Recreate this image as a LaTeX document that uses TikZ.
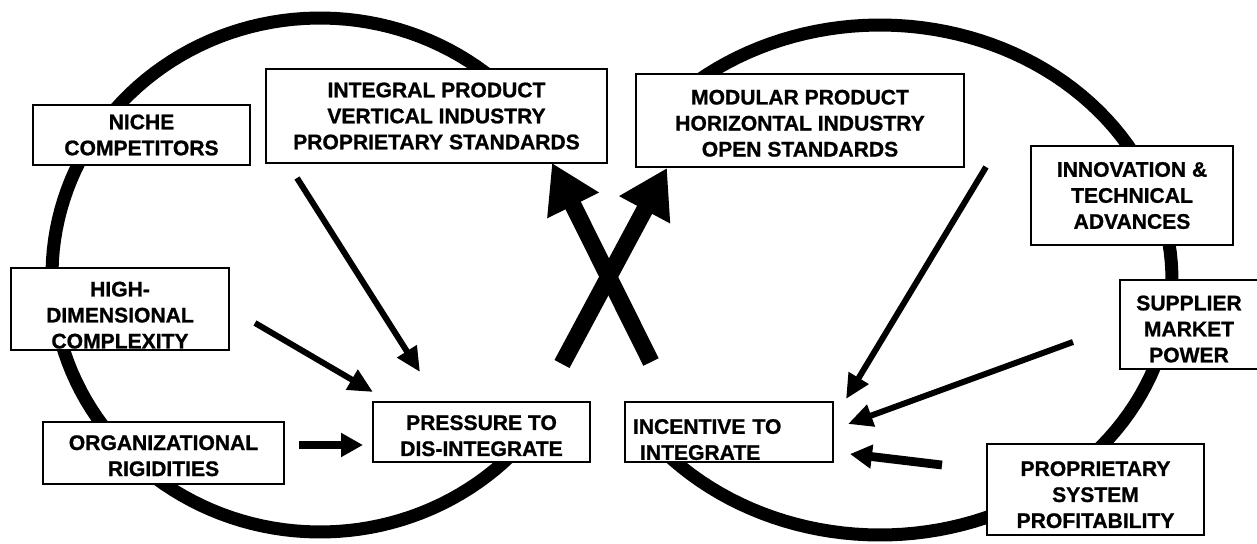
\documentclass[tikz,border=0pt]{standalone}
\usepackage{fontspec}
\setmainfont{Liberation Sans}[BoldFeatures={FakeBold=1}]
\usetikzlibrary{arrows.meta}
\newcommand{\lift}[1]{\rule{0pt}{#1}}
\tikzset{
    every node/.style={font=\fontsize{12}{14.8}\selectfont\bfseries},
    box/.style 2 args={draw, line width=1.2pt, fill=white, align=center,
        inner sep=0pt, minimum width=#1*0.02cm, minimum height=#2*0.02cm},
    cycleline/.style={line width=7.4pt},
    feed/.style={line width=3.4pt, -{Triangle[length=14pt, width=12.5pt]}},
    heavyfeed/.style={line width=5pt, -{Triangle[length=12.5pt, width=13pt]}},
    bigarrow/.style={line width=9.7pt, -{Triangle[length=27pt, width=31pt]}},
}
\begin{document}
\begin{tikzpicture}[x=0.02cm, y=-0.02cm]
    \useasboundingbox (0,0) rectangle (1257,544);
    % figure eight
    \draw[cycleline] plot[domain=45:320, samples=120]
        ({320+268*cos(\x)}, {275-257*sin(\x)});
    \draw[cycleline] plot[domain=-138:142, samples=120]
        ({880+292*cos(\x)}, {280+255*sin(\x)});
    % boxes
    \node[box={217}{60}] (niche) at (141.5,135) {NICHE\\COMPETITORS};
    \node[box={341}{94}] (integral) at (436.5,116)
        {INTEGRAL PRODUCT\\VERTICAL INDUSTRY\\PROPRIETARY STANDARDS};
    \node[box={328}{93}] (modular) at (800,120.5)
        {\lift{11.5pt}MODULAR PRODUCT\\HORIZONTAL INDUSTRY\\OPEN STANDARDS};
    \node[box={202}{99}] (innov) at (1132,195.5)
        {INNOVATION \&\\TECHNICAL\\ADVANCES};
    \node[box={218}{82}] (highdim) at (120,309)
        {\lift{15.4pt}HIGH-\\DIMENSIONAL\\COMPLEXITY};
    \node[box={241}{62}] (org) at (163.5,453)
        {\lift{11.5pt}ORGANIZATIONAL\\RIGIDITIES};
    \node[box={217}{60}] (pressure) at (481.5,432)
        {\lift{12.6pt}PRESSURE TO\\DIS-INTEGRATE};
    \node[box={208}{60}, align=left, text width=192*0.02cm] (incentive)
        at (729,432) {\lift{17pt}INCENTIVE TO\\\ INTEGRATE};
    \node[box={138}{89}] (supplier) at (1189,324.5)
        {\lift{13.6pt}SUPPLIER\\MARKET\\POWER};
    \node[box={217}{91}] (propsys) at (1095.5,489.5)
        {\lift{14.3pt}PROPRIETARY\\SYSTEM\\PROFITABILITY};
    % free ends of the arrows
    \coordinate (integral-out) at (297,178);
    \coordinate (highdim-out) at (255,323);
    \coordinate (org-out) at (299,445);
    \coordinate (pressure-in1) at (420,372);
    \coordinate (pressure-in2) at (373,392);
    \coordinate (pressure-in3) at (363,445);
    \coordinate (modular-out) at (986,167);
    \coordinate (supplier-out) at (1073,342);
    \coordinate (propsys-out) at (942,465);
    \coordinate (incentive-in1) at (846,399);
    \coordinate (incentive-in2) at (848,424);
    \coordinate (incentive-in3) at (850,454);
    \coordinate (pressure-up) at (562,364);
    \coordinate (incentive-up) at (651,362);
    \coordinate (modular-tip) at (667,168);
    \coordinate (integral-tip) at (552,163);
    % arrows
    \draw[feed] (integral-out) -- (pressure-in1);
    \draw[feed] (highdim-out) -- (pressure-in2);
    \draw[heavyfeed] (org-out) -- (pressure-in3);
    \draw[feed] (modular-out) -- (incentive-in1);
    \draw[feed] (supplier-out) -- (incentive-in2);
    \draw[heavyfeed] (propsys-out) -- (incentive-in3);
    \draw[bigarrow] (pressure-up) -- (modular-tip);
    \draw[bigarrow] (incentive-up) -- (integral-tip);
\end{tikzpicture}
\end{document}
